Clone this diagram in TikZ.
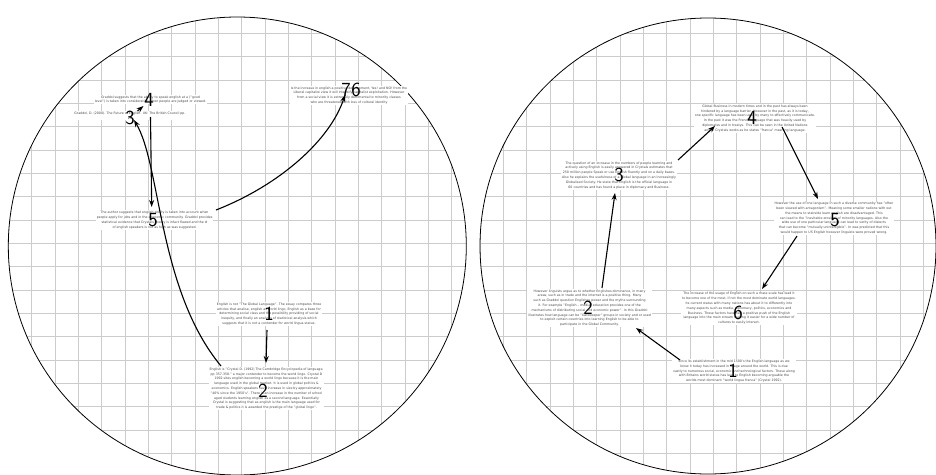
\documentclass[tikz,border=0pt]{standalone}
\usepackage{fontspec}
\setmainfont{DejaVu Sans}
\usetikzlibrary{arrows.meta}
\tikzset{
  txt/.style={fill=white, inner sep=0.8pt, align=center, text=black!72,
    font=\fontsize{3.2}{4.8}\selectfont},
  num/.style={inner sep=0pt, font=\sffamily\fontsize{20}{20}\selectfont},
  gridline/.style={black!20, line width=0.6pt},
  rim/.style={black, line width=0.8pt},
  arr/.style={black, line width=1.1pt, -{Stealth[length=7pt,width=5pt]}}
}
\begin{document}
\begin{tikzpicture}[x=1pt,y=-1pt]
\useasboundingbox (0,0) rectangle (936,474);
\fill[white] (0,0) rectangle (936,474);
% grids
\begin{scope}
\clip (237.3,246) circle[radius=229];
\foreach \k in {0,...,20} \draw[gridline] (8.33+23.333*\k,0) -- (8.33+23.333*\k,480);
\foreach \k in {-3,...,17} \draw[gridline] (0,80+23.333*\k) -- (480,80+23.333*\k);
\end{scope}
\begin{scope}
\clip (708,246) circle[radius=228];
\foreach \k in {0,...,20} \draw[gridline] (480+23.333*\k,0) -- (480+23.333*\k,480);
\foreach \k in {-3,...,17} \draw[gridline] (470,80+23.333*\k) -- (940,80+23.333*\k);
\end{scope}
\draw[rim] (237.3,246) circle[radius=229];
\draw[rim] (708,246) circle[radius=228];

% left texts
\node[txt] (L4) at (150.5,99.7) {Graddol suggests that the ability to speak english at a ("good\\level") is taken into consideration when people are judged or viewed.};
\node[txt] (L3) at (130,115.7) {Graddol, D. (2000). The Future of English. UK: The British Council pp.\\20};
\node[txt] (L6) at (349,95.5) {Is the increase in english a positive development, Yes! and NO! from the\\Liberal capitalist view it will intensify capitalist exploitation. However\\from a social view it is extremely detrimental to minority classes\\who are threatened with loss of cultural identity};
\node[txt] (L5) at (154.6,220) {The author suggests that english ability is taken into account when\\people apply for jobs and in the economic community. Graddol provides\\statistical evidence that Crystals theory is infact flawed and the \#\\of english speakers is not as high as was suggested.};
\node[txt] (L1) at (269,314) {English is not "The Global Language". The essay compares three\\articles that analise, english as world lingo, English as a base for\\determining social class and the possibility providing of social\\inequity, and finally an analysis of statistical analysis which\\suggests that it is not a contender for world lingua status.};
\node[txt] (L2) at (266.5,388.7) {English is "Crystal D. (1992) The Cambridge Encyclopedia of language,\\pp 357-358." a major contender to become the world lingo. Crystal D\\1992 sites english becoming a world lingo because it is the main\\language used in the global market. It is used in global politics \&\\economics. English speakers have increase in size by approximately\\"40\% since the 1950's". There is an increase in the number of school\\aged students learning english as a second language. Essentially\\Crystal is suggesting that as english is the main language used for\\trade \& politics it is awarded the prestige of the "global lingo".};

% right texts
\node[txt] (R4) at (755,118.5) {Global Business in modern times and in the past has always been\\hindered by a language barrier. However in the past, as it is today,\\one specific language has been used by many to effectively communicate.\\In the past it was the French language that was heavily used by\\diplomates and in treatys. This can be seen in the United Nations\\and in Crystals works as he states "franca" meaning language.};
\node[txt] (R3) at (619,175.3) {The question of an increase in the numbers of people learning and\\actively using English is easily answered in Crystals estimates that\\250 million people Speak or use English fluently and on a daily bases.\\Also he explains the usefulness of a Global language in an increasingly\\Globalised Society. He state that English is the official language in\\60 countries and has found a place in diplomacy and Business.};
\node[txt] (R5) at (834,218.3) {However the use of one language in such a diverse community has "often\\been viewed with antagonism". Meaning some smaller nations with out\\the means to stairside learn english are disadvantaged. This\\can lead to the "inevitable erosion" of minority languages. Also the\\wide use of one particular language can lead to verity of dialects\\that can become "mutually unintelligible". In was predicted that this\\would happen to US English however linguists were proved wrong.};
\node[txt] (R2) at (589.5,308) {However linguists argue as to whether Englishes dominance, in many\\areas, such as in trade and the internet is a positive thing. Many\\such as Graddol question Englishes power and the myths surrounding\\it. For example "English -- media" education provides one of the\\mechanisms of distributing social and economic power". In this Graddol\\illustrates how language can be "Gatekeeper" groups in society and or used\\to exploit certain countries into learning English to be able to\\participate in the Global Community.};
\node[txt] (R6) at (739,308.5) {The increase of the usage of English on such a mass scale has lead it\\to become one of the most, if not the most dominate world languages.\\Its current status with many nations has about it to differently into\\many aspects such as media, diplomacy, politics, economics and\\Business. These factors have had a positive push of the English\\language into the main stream making it easier for a wide number of\\cultures to easily interact.};
\node[txt] (R1) at (734,371.3) {Since its establishment in the mid 1500's the English language as we\\know it today has increased in usage around the world. This is due\\vastly to numerous social, economic and technological factors. These along\\with Britains world status has lead to English becoming arguable the\\worlds most dominant "world lingua franca" (Crystal 1992).};

% endpoints
\coordinate (a1s) at (267,330); \coordinate (a1e) at (266,363);
\coordinate (a2s) at (221,366); \coordinate (a2e) at (134,120);
\coordinate (a3s) at (137.5,111); \coordinate (a3e) at (143.5,106);
\coordinate (a4s) at (150.5,117); \coordinate (a4e) at (151.7,207);
\coordinate (a5s) at (216,210); \coordinate (a5e) at (345,95);
\coordinate (b1s) at (680,360); \coordinate (b1e) at (636,328);
\coordinate (b2s) at (602,288); \coordinate (b2e) at (615,193);
\coordinate (b3s) at (678,160); \coordinate (b3e) at (715,126);
\coordinate (b4s) at (782,127); \coordinate (b4e) at (818,199);
\coordinate (b5s) at (797,236); \coordinate (b5e) at (762,289);

% connectors
\draw[arr] (a1s) -- (a1e);
\draw[arr] (a2s) .. controls (158,290) and (161,165) .. (a2e);
\draw[arr] (a3s) -- (a3e);
\draw[arr] (a4s) -- (a4e);
\draw[arr] (a5s) .. controls (280,185) and (330,140) .. (a5e);
\draw[arr] (b1s) -- (b1e);
\draw[arr] (b2s) -- (b2e);
\draw[arr] (b3s) -- (b3e);
\draw[arr] (b4s) -- (b4e);
\draw[arr] (b5s) -- (b5e);

% numbers
\node[num] (nl4) at (149,100) {4};
\node[num] (nl3) at (130,117.5) {3};
\node[num] (nl5) at (153,220) {5};
\node[num] (nl1) at (269,314) {1};
\node[num] (nl2) at (263,391) {2};
\node[num] (nl7) at (346,90) {7};
\node[num] (nl6) at (356,90) {6};
\node[num] (nr4) at (752,118) {4};
\node[num] (nr3) at (619,175) {3};
\node[num] (nr5) at (835,220) {5};
\node[num] (nr2) at (588,308) {2};
\node[num] (nr6) at (738,313) {6};
\node[num] (nr1) at (733,371) {1};
\end{tikzpicture}
\end{document}
